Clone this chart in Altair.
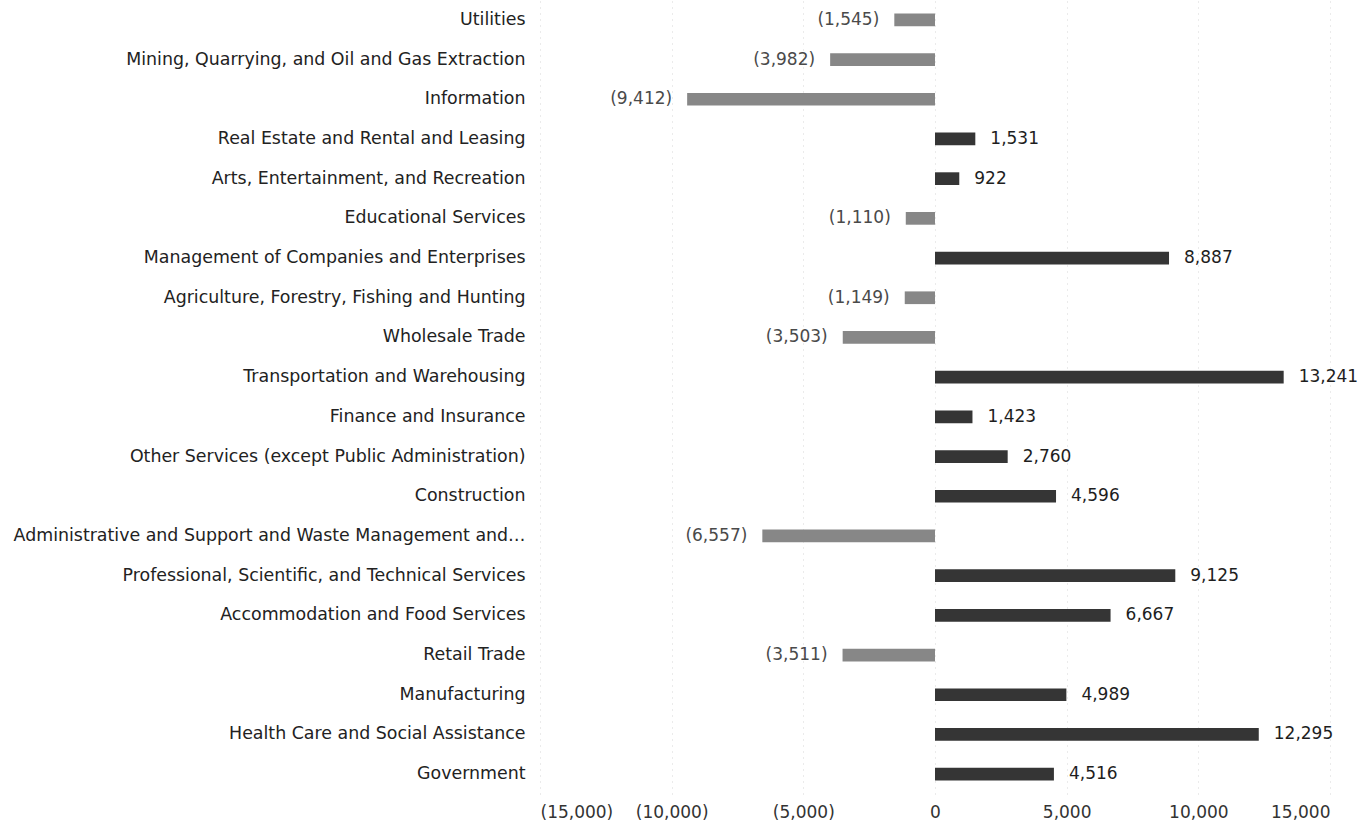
import altair as alt
import pandas as pd

industries = [
    "Utilities",
    "Mining, Quarrying, and Oil and Gas Extraction",
    "Information",
    "Real Estate and Rental and Leasing",
    "Arts, Entertainment, and Recreation",
    "Educational Services",
    "Management of Companies and Enterprises",
    "Agriculture, Forestry, Fishing and Hunting",
    "Wholesale Trade",
    "Transportation and Warehousing",
    "Finance and Insurance",
    "Other Services (except Public Administration)",
    "Construction",
    "Administrative and Support and Waste Management and…",
    "Professional, Scientific, and Technical Services",
    "Accommodation and Food Services",
    "Retail Trade",
    "Manufacturing",
    "Health Care and Social Assistance",
    "Government",
]
values = [-1545, -3982, -9412, 1531, 922, -1110, 8887, -1149, -3503, 13241,
          1423, 2760, 4596, -6557, 9125, 6667, -3511, 4989, 12295, 4516]
x_ticks = [-15000, -10000, -5000, 0, 5000, 10000, 15000]

df = pd.DataFrame({"industry": industries, "value": values})
df["sign"] = ["neg" if v < 0 else "pos" for v in values]

FONT = "DejaVu Sans"
FS = 17

base = alt.Chart(df).encode(
    y=alt.Y("industry:N", sort=industries,
            scale=alt.Scale(paddingInner=0.68, paddingOuter=0.34),
            axis=alt.Axis(title=None, domain=False, ticks=False, labelPadding=15,
                          labelFontSize=17.4, labelColor="#222", labelFont=FONT,
                          labelLimit=600, grid=False)),
)

xenc = alt.X("value:Q", scale=alt.Scale(domain=[-15000, 15000], nice=False),
             axis=alt.Axis(title=None, values=x_ticks, domain=False, ticks=False,
                           labelFontSize=FS, labelFont=FONT, labelPadding=10,
                           labelColor="#333",
                           labelExpr="datum.value < 0 ? '(' + format(-datum.value, ',') + ')' : format(datum.value, ',')",
                           grid=True, gridColor="#d6d6d6", gridDash=[1, 5], gridWidth=1))

bars = base.mark_bar().encode(
    x=xenc,
    color=alt.Color("sign:N", scale=alt.Scale(domain=["neg", "pos"], range=["#878787", "#353535"]),
                    legend=None),
)

pos_labels = base.transform_filter("datum.value >= 0").transform_calculate(
    lab="format(datum.value, ',')"
).mark_text(align="left", dx=15, fontSize=FS, font=FONT, color="#1e1e1e").encode(
    x="value:Q", text="lab:N")

neg_labels = base.transform_filter("datum.value < 0").transform_calculate(
    lab="'(' + format(-datum.value, ',') + ')'"
).mark_text(align="right", dx=-15, fontSize=FS, font=FONT, color="#4a4a4a").encode(
    x="value:Q", text="lab:N")

chart = alt.layer(bars, pos_labels, neg_labels).properties(
    width=790, height=794,
    background="white",
    autosize=alt.AutoSizeParams(type="none"),
    padding={"left": 540, "top": 0, "right": 39, "bottom": 35},
).configure_view(stroke="transparent", strokeWidth=0)

chart.save("out.html", embed_options={"renderer": "svg", "actions": False})
